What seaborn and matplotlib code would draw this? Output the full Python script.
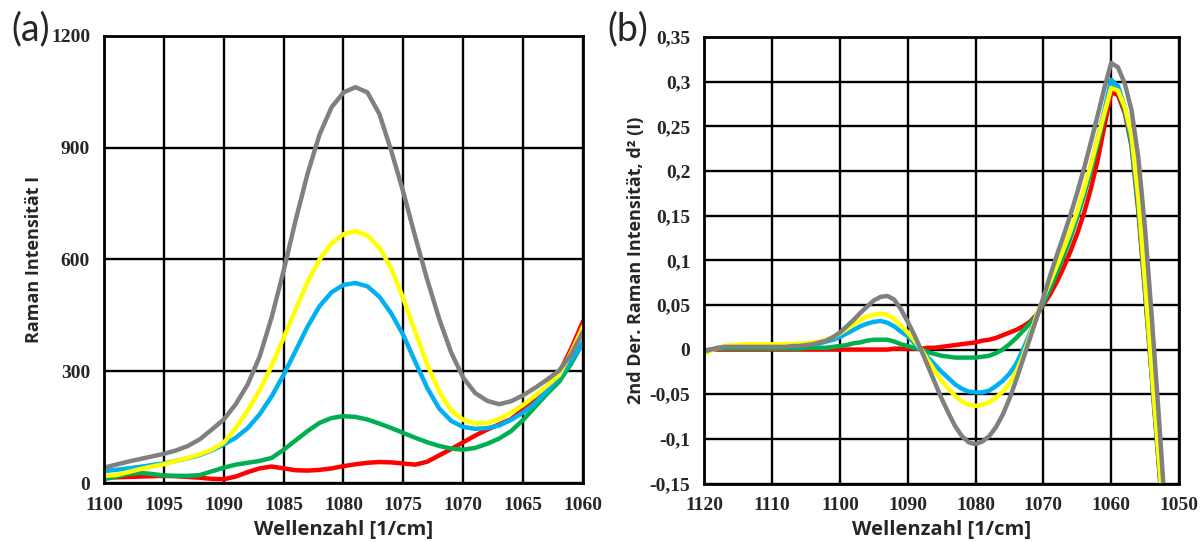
import pandas as pd
import seaborn as sns
import matplotlib.pyplot as plt
from matplotlib.ticker import FuncFormatter, MultipleLocator

# (a) Raman spectra, 1100 -> 1060 1/cm
wn_a = list(range(1100, 1059, -1))
grau_a = [42, 50, 58, 65, 72, 79, 88, 100, 118, 144,
          171, 212, 265, 340, 445, 570, 705, 830, 935, 1008,
          1048, 1062, 1048, 990, 890, 780, 660, 545, 440, 350,
          283, 242, 221, 212, 220, 236, 256, 278, 302, 345,
          406]
gelb_a = [20, 22, 30, 38, 45, 51, 60, 68, 78, 90,
          109, 148, 195, 250, 315, 390, 465, 540, 600, 643,
          668, 676, 664, 632, 575, 495, 405, 318, 245, 195,
          170, 160, 162, 172, 190, 210, 235, 262, 290, 350,
          420]
blau_a = [33, 36, 40, 44, 49, 53, 60, 67, 76, 88,
          104, 122, 148, 185, 233, 291, 355, 420, 475, 512,
          532, 537, 528, 500, 455, 397, 325, 255, 200, 167,
          151, 146, 148, 155, 170, 190, 215, 248, 285, 330,
          378]
gruen_a = [11, 18, 25, 28, 25, 21, 20, 20, 22, 32,
           42, 50, 55, 60, 68, 90, 115, 140, 162, 175,
           180, 178, 171, 160, 148, 135, 122, 110, 100, 93,
           90, 95, 106, 120, 140, 170, 205, 240, 272, 320,
           378]
rot_a = [15, 16, 17, 18, 19, 20, 19, 17, 15, 12,
         11, 18, 30, 40, 45, 40, 35, 34, 36, 40,
         46, 51, 55, 57, 56, 53, 50, 58, 75, 92,
         110, 128, 144, 158, 172, 198, 230, 260, 295, 360,
         434]

# (b) 2nd derivative, 1120 -> 1052 1/cm
wn_b = list(range(1120, 1051, -1))
grau_b = [-0.002, 0.000, 0.002, 0.003, 0.003, 0.003, 0.003, 0.003, 0.003, 0.003,
          0.003, 0.003, 0.003, 0.004, 0.004, 0.005, 0.006, 0.008, 0.010, 0.014,
          0.019, 0.026, 0.033, 0.041, 0.048, 0.055, 0.059, 0.060, 0.056, 0.045,
          0.031, 0.016, -0.001, -0.019, -0.037, -0.055, -0.071, -0.086, -0.097, -0.104,
          -0.106, -0.103, -0.097, -0.087, -0.073, -0.055, -0.034, -0.011, 0.012, 0.035,
          0.058, 0.083, 0.106, 0.128, 0.151, 0.176, 0.203, 0.232, 0.262, 0.293,
          0.321, 0.316, 0.298, 0.268, 0.215, 0.135, 0.035, -0.072, -0.185]
gelb_b = [-0.005, -0.001, 0.002, 0.004, 0.005, 0.005, 0.006, 0.006, 0.006, 0.006,
          0.006, 0.006, 0.006, 0.006, 0.007, 0.007, 0.008, 0.009, 0.011, 0.014,
          0.018, 0.023, 0.028, 0.033, 0.037, 0.039, 0.040, 0.039, 0.034, 0.027,
          0.019, 0.010, 0.000, -0.012, -0.024, -0.035, -0.044, -0.052, -0.058, -0.062,
          -0.063, -0.062, -0.059, -0.054, -0.047, -0.038, -0.025, -0.007, 0.015, 0.038,
          0.058, 0.076, 0.094, 0.113, 0.133, 0.155, 0.180, 0.207, 0.236, 0.265,
          0.293, 0.290, 0.272, 0.240, 0.170, 0.075, -0.025, -0.120, -0.210]
blau_b = [-0.003, 0.000, 0.002, 0.003, 0.004, 0.004, 0.004, 0.004, 0.004, 0.004,
          0.004, 0.004, 0.004, 0.004, 0.004, 0.005, 0.006, 0.007, 0.009, 0.011,
          0.014, 0.018, 0.022, 0.026, 0.029, 0.031, 0.032, 0.030, 0.026, 0.020,
          0.015, 0.007, -0.001, -0.009, -0.017, -0.025, -0.032, -0.039, -0.044, -0.047,
          -0.048, -0.048, -0.046, -0.041, -0.035, -0.027, -0.016, 0.000, 0.018, 0.037,
          0.057, 0.075, 0.094, 0.113, 0.131, 0.153, 0.178, 0.205, 0.236, 0.268,
          0.302, 0.295, 0.272, 0.235, 0.165, 0.070, -0.028, -0.122, -0.212]
gruen_b = [-0.002, 0.000, 0.001, 0.001, 0.001, 0.001, 0.001, 0.001, 0.001, 0.001,
           0.001, 0.001, 0.001, 0.001, 0.001, 0.002, 0.002, 0.002, 0.002, 0.003,
           0.004, 0.005, 0.007, 0.008, 0.010, 0.011, 0.011, 0.011, 0.009, 0.006,
           0.004, 0.002, 0.000, -0.003, -0.005, -0.007, -0.008, -0.009, -0.009, -0.009,
           -0.009, -0.008, -0.007, -0.004, 0.000, 0.006, 0.013, 0.021, 0.029, 0.038,
           0.052, 0.068, 0.086, 0.105, 0.125, 0.148, 0.173, 0.200, 0.230, 0.262,
           0.295, 0.290, 0.268, 0.230, 0.160, 0.066, -0.030, -0.125, -0.215]
rot_b = [-0.001, 0.000, 0.000, 0.000, 0.000, 0.000, 0.000, 0.000, 0.000, 0.000,
         0.000, 0.000, 0.000, 0.000, 0.000, 0.000, 0.000, 0.000, 0.000, 0.000,
         0.000, 0.000, 0.000, 0.000, 0.000, 0.000, 0.000, 0.000, 0.001, 0.001,
         0.001, 0.001, 0.001, 0.002, 0.002, 0.003, 0.004, 0.005, 0.006, 0.007,
         0.008, 0.010, 0.011, 0.013, 0.016, 0.019, 0.022, 0.026, 0.031, 0.039,
         0.050, 0.062, 0.076, 0.092, 0.110, 0.130, 0.153, 0.180, 0.212, 0.250,
         0.288, 0.285, 0.265, 0.228, 0.155, 0.062, -0.032, -0.128, -0.218]

proben = ['rot', 'grün', 'blau', 'gelb', 'grau']  # drawing order, grau on top
farben = {'rot': '#ff0000', 'grün': '#00b050', 'blau': '#00b0f0',
          'gelb': '#ffff00', 'grau': '#808080'}


def long_df(wn, series):
    frames = [pd.DataFrame({'wn': wn, 'val': vals, 'probe': name})
              for name, vals in zip(proben, series)]
    return pd.concat(frames, ignore_index=True)


df_a = long_df(wn_a, [rot_a, gruen_a, blau_a, gelb_a, grau_a])
df_b = long_df(wn_b, [rot_b, gruen_b, blau_b, gelb_b, grau_b])

sns.set_style('white')
plt.rcParams['font.family'] = ['Liberation Serif', 'DejaVu Serif']
plt.rcParams['font.weight'] = 'bold'

fig = plt.figure(figsize=(12.03, 5.42), dpi=100)
ax1 = fig.add_axes([104 / 1203, 1 - 483.3 / 542, 479 / 1203, 447.6 / 542])
ax2 = fig.add_axes([704.3 / 1203, 1 - 483.5 / 542, 474.7 / 1203, 446.5 / 542])

for ax, df in ((ax1, df_a), (ax2, df_b)):
    sns.lineplot(data=df, x='wn', y='val', hue='probe', hue_order=proben,
                 palette=farben, sort=False, estimator=None, linewidth=3.2,
                 legend=False, ax=ax, solid_joinstyle='round')
    ax.grid(True, color='black', linewidth=1.7)
    ax.set_axisbelow(True)
    for s in ax.spines.values():
        s.set_color('black')
        s.set_linewidth(2)
        s.set_visible(True)
    ax.tick_params(length=0, pad=10, labelsize=14)

lab = dict(family='Open Sans', fontweight='bold')

ax1.set_xlim(1100, 1060)
ax1.set_ylim(0, 1200)
ax1.xaxis.set_major_locator(MultipleLocator(5))
ax1.yaxis.set_major_locator(MultipleLocator(300))
ax1.set_xlabel('Wellenzahl [1/cm]', fontsize=14.5, labelpad=4, **lab)
ax1.set_ylabel('Raman Intensität I', fontsize=13, labelpad=6, **lab)

ax2.set_xlim(1120, 1050)
ax2.set_ylim(-0.15, 0.35)
ax2.xaxis.set_major_locator(MultipleLocator(10))
ax2.yaxis.set_major_locator(MultipleLocator(0.05))
ax2.yaxis.set_major_formatter(FuncFormatter(
    lambda v, p: f'{round(v, 2):g}'.replace('.', ',') if abs(v) > 1e-9 else '0'))
ax2.set_xlabel('Wellenzahl [1/cm]', fontsize=14.5, labelpad=4, **lab)
ax2.set_ylabel('2nd Der. Raman Intensität, d² (I)', fontsize=13,
               labelpad=3, **lab)

fig.text(11 / 1203, 1 - 11 / 542, '(a)', family='Lato', fontsize=27,
         fontweight='normal', va='top', ha='left')
fig.text(607 / 1203, 1 - 11 / 542, '(b)', family='Lato', fontsize=27,
         fontweight='normal', va='top', ha='left')

fig.savefig('out.png', dpi=100)
